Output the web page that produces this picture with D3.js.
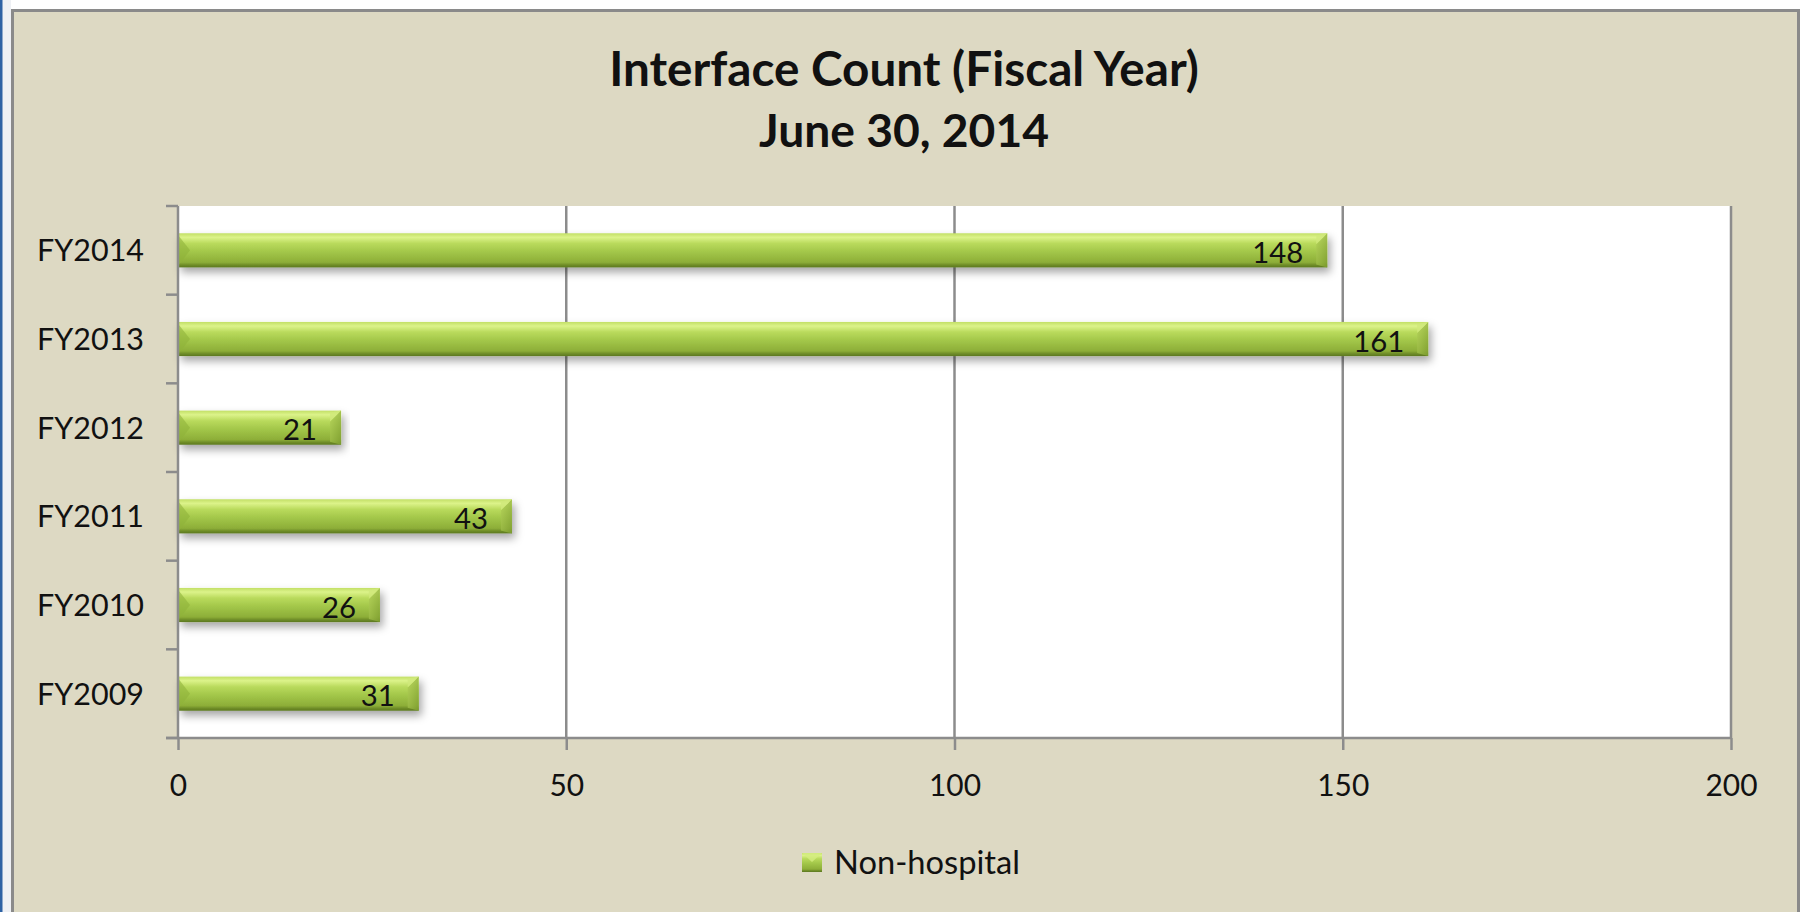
<!DOCTYPE html>
<html>
<head>
<meta charset="utf-8">
<script src="https://cdn.jsdelivr.net/npm/d3@7"></script>
<style>
  html, body { margin: 0; padding: 0; background: #ffffff; }
  svg { display: block; }
  text { font-family: Lato, "Open Sans", sans-serif; fill: #111; }
</style>
</head>
<body>
<svg id="chart" width="1803" height="912"></svg>
<script>
// ---- data ----
const categories = ["FY2014", "FY2013", "FY2012", "FY2011", "FY2010", "FY2009"];
const values = [148, 161, 21, 43, 26, 31];
const xTicks = [0, 50, 100, 150, 200];
const seriesName = "Non-hospital";
const titleLines = ["Interface Count (Fiscal Year)", "June 30, 2014"];

const W = 1803, H = 912;
const plot = { left: 178, right: 1731, top: 206, bottom: 738 };

const svg = d3.select("#chart");
const defs = svg.append("defs");

// bar gradient
const g1 = defs.append("linearGradient").attr("id", "barGrad")
  .attr("x1", 0).attr("y1", 0).attr("x2", 0).attr("y2", 1);
[[0, "#c2df66"], [0.12, "#dcf38a"], [0.3, "#b9da5c"], [0.55, "#a2c649"],
 [0.85, "#8dae38"], [0.93, "#6f8d28"], [1, "#5c7820"]].forEach(([o, c]) =>
  g1.append("stop").attr("offset", o).attr("stop-color", c));

const g2 = defs.append("linearGradient").attr("id", "capGrad")
  .attr("x1", 0).attr("y1", 0).attr("x2", 1).attr("y2", 1);
g2.append("stop").attr("offset", 0).attr("stop-color", "#b5d35a");
g2.append("stop").attr("offset", 1).attr("stop-color", "#7f9f30");

const shadow = defs.append("filter").attr("id", "shadow")
  .attr("x", "-5%").attr("y", "-30%").attr("width", "110%").attr("height", "180%");
shadow.append("feDropShadow").attr("dx", 3).attr("dy", 5).attr("stdDeviation", 4)
  .attr("flood-color", "#000").attr("flood-opacity", 0.35);

// page / frame
svg.append("rect").attr("x", 0).attr("y", 0).attr("width", W).attr("height", H).attr("fill", "#ffffff");
svg.append("rect").attr("x", 0).attr("y", 0).attr("width", 11).attr("height", H).attr("fill", "#eef0f4");
svg.append("rect").attr("x", 0).attr("y", 0).attr("width", 2.5).attr("height", H).attr("fill", "#2e62a4");
svg.append("rect").attr("x", 12.5).attr("y", 10.5).attr("width", 1786).attr("height", 920)
  .attr("fill", "#ddd9c3").attr("stroke", "#8a8a8a").attr("stroke-width", 3);

// scales
const x = d3.scaleLinear().domain([0, 200]).range([plot.left, plot.right]);
const y = d3.scaleBand().domain(categories).range([plot.top, plot.bottom]).padding(0);
const barH = y.bandwidth() * 0.385;

// plot area
svg.append("rect").attr("x", plot.left).attr("y", plot.top)
  .attr("width", plot.right - plot.left).attr("height", plot.bottom - plot.top)
  .attr("fill", "#ffffff");

// gridlines
svg.append("g").selectAll("line").data(xTicks.filter(d => d > 0)).join("line")
  .attr("x1", d => x(d)).attr("x2", d => x(d))
  .attr("y1", plot.top).attr("y2", plot.bottom)
  .attr("stroke", "#8c8c8c").attr("stroke-width", 2.5);

// bars
const bars = svg.append("g").selectAll("g").data(categories.map((c, i) => ({ c, v: values[i] }))).join("g");
bars.append("rect")
  .attr("x", x(0)).attr("y", d => y(d.c) + (y.bandwidth() - barH) / 2)
  .attr("width", d => x(d.v) - x(0)).attr("height", barH)
  .attr("fill", "url(#barGrad)").attr("filter", "url(#shadow)");
// right bevel
bars.append("path")
  .attr("d", d => {
    const x1 = x(d.v), y0 = y(d.c) + (y.bandwidth() - barH) / 2, b = 11;
    return `M${x1 - b},${y0 + b} L${x1},${y0} L${x1},${y0 + barH} L${x1 - b},${y0 + barH - 3} Z`;
  })
  .attr("fill", "url(#capGrad)").attr("opacity", 0.85);
bars.append("path")
  .attr("d", d => {
    const x1 = x(d.v), y0 = y(d.c) + (y.bandwidth() - barH) / 2, b = 11;
    return `M${x1 - b},${y0 + 2} L${x1},${y0} L${x1 - b},${y0 + b} Z`;
  })
  .attr("fill", "#cfe97a").attr("opacity", 0.8);
// left bevel
bars.append("path")
  .attr("d", d => {
    const x0 = x(0) + 1, y0 = y(d.c) + (y.bandwidth() - barH) / 2;
    return `M${x0},${y0 + 3} L${x0 + 11},${y0 + barH / 2} L${x0},${y0 + barH - 3} Z`;
  })
  .attr("fill", "#8fb23a").attr("opacity", 0.6);

// font fitting helper
function fitSize(str, targetW, weight) {
  const t = svg.append("text").attr("font-size", 100).attr("font-weight", weight || "normal").text(str);
  const w = t.node().getComputedTextLength();
  t.remove();
  return 100 * targetW / w;
}
const catSize = fitSize("FY2014", 107);
const valSize = fitSize("148", 51);
const tickSize = fitSize("200", 52);
const legSize = fitSize(seriesName, 186);
const titleSizes = [fitSize(titleLines[0], 590, "bold"), fitSize(titleLines[1], 290, "bold")];

// data labels
bars.append("text")
  .attr("x", d => x(d.v) - 24).attr("y", d => y(d.c) + y.bandwidth() / 2 + 2)
  .attr("dy", "0.36em").attr("text-anchor", "end")
  .attr("font-size", valSize).text(d => d.v);

// left axis
const yAxis = svg.append("g").attr("transform", `translate(${plot.left},0)`)
  .call(d3.axisLeft(y).tickSize(0).tickPadding(34));
yAxis.select(".domain").remove();
yAxis.selectAll("text").attr("font-size", catSize).attr("font-family", null).attr("fill", "#111").attr("dy", "0.36em");
svg.append("g").selectAll("line")
  .data(categories.map(c => y(c)).concat([plot.bottom])).join("line")
  .attr("x1", plot.left - 12).attr("x2", plot.left).attr("y1", d => d).attr("y2", d => d)
  .attr("stroke", "#8c8c8c").attr("stroke-width", 2.5);
svg.append("line").attr("x1", plot.left).attr("x2", plot.left)
  .attr("y1", plot.top).attr("y2", plot.bottom)
  .attr("stroke", "#8c8c8c").attr("stroke-width", 2.5);

// bottom axis
const xAxis = svg.append("g").attr("transform", `translate(0,${plot.bottom})`)
  .call(d3.axisBottom(x).tickValues(xTicks).tickSize(12).tickSizeOuter(0));
xAxis.select(".domain").attr("stroke", "#8c8c8c").attr("stroke-width", 2.5)
  .attr("d", `M${plot.left - 12},0H${plot.right}`);
xAxis.selectAll(".tick line").attr("stroke", "#8c8c8c").attr("stroke-width", 2.5);
xAxis.selectAll("text").attr("font-size", tickSize).attr("font-family", null).attr("fill", "#111")
  .attr("y", 47).attr("dy", "0.36em");

// title
svg.append("g").selectAll("text").data(titleLines).join("text")
  .attr("x", 904).attr("y", (d, i) => 69 + i * 61).attr("dy", "0.36em")
  .attr("text-anchor", "middle").attr("font-weight", "bold").attr("font-size", (d, i) => titleSizes[i])
  .text(d => d);

// legend
const leg = svg.append("g").attr("transform", "translate(802,853)");
leg.append("rect").attr("width", 20).attr("height", 19).attr("fill", "url(#barGrad)");
leg.append("path").attr("d", "M0,0 L10,9 L20,0 Z").attr("fill", "#d3ec80").attr("opacity", 0.8);
leg.append("text").attr("x", 32).attr("y", 9.5).attr("dy", "0.36em")
  .attr("font-size", legSize).text(seriesName);
</script>
</body>
</html>
